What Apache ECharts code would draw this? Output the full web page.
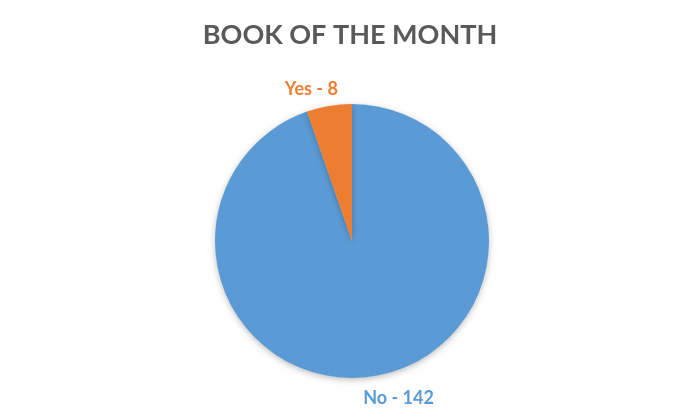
<!DOCTYPE html>
<html>
<head>
    <meta charset="utf-8">
    <script src="https://cdn.jsdelivr.net/npm/echarts@6/dist/echarts.min.js"></script>
    <style>
        html, body { margin: 0; padding: 0; background: #ffffff; }
        #main { width: 700px; height: 420px; }
    </style>
</head>
<body>
    <div id="main"></div>
    <script type="text/javascript">
        // 数据
        var categories = ['No', 'Yes'];
        var counts = [142, 8];
        var colors = ['#5B9BD5', '#ED7D31'];

        var pieData = [];
        for (var i = 0; i < categories.length; i++) {
            pieData.push({
                name: categories[i],
                value: counts[i],
                itemStyle: { color: colors[i] },
                label: { color: colors[i] }
            });
        }

        // 标签微调 (Excel 风格的位置)
        var labelShift = [[-18, 14], [15, -9]];

        var myChart = echarts.init(document.getElementById('main'));
        var option = {
            backgroundColor: '#ffffff',
            animation: false,
            title: {
                text: 'BOOK OF THE MONTH',
                left: 'center',
                top: 17,
                textStyle: {
                    fontFamily: 'Lato',
                    fontWeight: 'bold',
                    fontSize: 27,
                    color: '#595959'
                }
            },
            series: [{
                type: 'pie',
                center: [352, 241],
                radius: 137,
                startAngle: 90,
                clockwise: true,
                data: pieData,
                itemStyle: {
                    shadowBlur: 6,
                    shadowColor: 'rgba(0,0,0,0.25)',
                    shadowOffsetY: 2
                },
                label: {
                    show: true,
                    position: 'outside',
                    formatter: '{b} - {c}',
                    fontFamily: 'Lato',
                    fontWeight: 'bold',
                    fontSize: 18
                },
                labelLine: { show: false, length: 8, length2: 0 },
                labelLayout: function (params) {
                    var s = labelShift[params.dataIndex];
                    return { dx: s[0], dy: s[1] };
                },
                emphasis: { disabled: true }
            }]
        };
        myChart.setOption(option);
    </script>
</body>
</html>
